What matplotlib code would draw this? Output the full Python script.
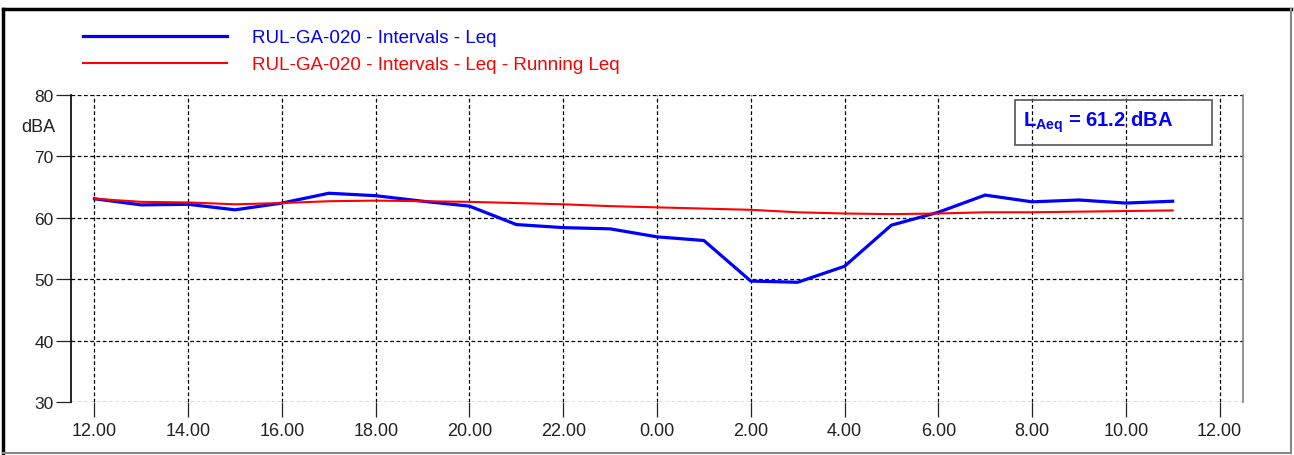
import matplotlib
matplotlib.use("Agg")
import matplotlib.pyplot as plt
from matplotlib.patches import Rectangle
from matplotlib.lines import Line2D

plt.rcParams['font.family'] = ['Liberation Sans', 'DejaVu Sans']
plt.rcParams['mathtext.fontset'] = 'custom'
plt.rcParams['mathtext.rm'] = 'Liberation Sans'
plt.rcParams['mathtext.bf'] = 'Liberation Sans:bold'

# Hourly intervals, starting at noon (hours > 24 wrap to the next day)
hours = list(range(12, 36))
leq = [63.1, 62.1, 62.2, 61.3, 62.4, 64.0, 63.6, 62.7, 61.9, 58.9, 58.4, 58.2,
       56.9, 56.3, 49.7, 49.5, 52.1, 58.8, 60.9, 63.7, 62.6, 62.9, 62.4, 62.7]
running_leq = [63.1, 62.6, 62.5, 62.2, 62.4, 62.7, 62.8, 62.7, 62.6, 62.4, 62.2, 61.9,
               61.7, 61.5, 61.3, 60.9, 60.7, 60.6, 60.7, 60.9, 60.9, 61.0, 61.1, 61.2]
xticks = list(range(12, 37, 2))
xtick_labels = [f"{h % 24}.00" for h in xticks]
yticks = [30, 40, 50, 60, 70, 80]
laeq = 61.2
series_names = ["RUL-GA-020 - Intervals - Leq", "RUL-GA-020 - Intervals - Leq - Running Leq"]

W, H = 1294, 456
fig = plt.figure(figsize=(W / 100, H / 100), dpi=100)
fig.patch.set_facecolor('white')
ax = fig.add_axes([71 / W, (H - 403) / H, (1243 - 71) / W, (403 - 96) / H])

ax.plot(hours, leq, color='#0000FF', lw=2.3, label=series_names[0], zorder=4)
ax.plot(hours, running_leq, color='#FF0000', lw=1.5, label=series_names[1], zorder=5)

ax.set_xlim(11.5, 36.5)
ax.set_ylim(30, 80)
ax.set_xticks(xticks)
ax.set_xticklabels(xtick_labels)
ax.set_yticks(yticks)
ax.tick_params(axis='both', colors='#222222', length=11, width=0.9)
ax.tick_params(axis='y', pad=1.5, labelsize=12.5)
ax.tick_params(axis='x', pad=3.5, labelsize=13)
ax.grid(True, color='black', linestyle=(0, (3, 2)), linewidth=0.9)

for side in ('top', 'bottom'):
    ax.spines[side].set_visible(False)
ax.spines['left'].set_color('black')
ax.spines['left'].set_linewidth(1.2)
ax.spines['right'].set_color('#808080')
ax.spines['right'].set_linewidth(1.2)

fig.text(55 / W, 1 - 128 / H, "dBA", ha='right', va='center', fontsize=13, color='#222222')

# LAeq summary box
ax.add_patch(Rectangle(((1015 - 71) / 1172, (403 - 146) / 307), 197 / 1172, 45 / 307,
                       transform=ax.transAxes, fill=False, edgecolor='#555555',
                       lw=1.2, zorder=6))
ax.text((1023 - 71) / 1172, (403 - 122) / 307,
        r'$\mathbf{L}_{\mathbf{Aeq}}$' + f' = {laeq:.1f} dBA',
        transform=ax.transAxes, ha='left', va='center', fontsize=14.5,
        fontweight='bold', color='#0000FF', zorder=7)

# Legend
fig.legend(loc='upper left', bbox_to_anchor=(83 / W, 1 - 30 / H), frameon=False,
           fontsize=13.5, handlelength=7.7, handletextpad=1.3, labelspacing=0.53,
           borderpad=0, borderaxespad=0, labelcolor='linecolor')

# Outer frame: dark top/left, grey bottom/right
fig.add_artist(Line2D([3 / W, 3 / W], [1 - 454 / H, 1 - 10 / H], color='black', lw=2.5,
                      transform=fig.transFigure))
fig.add_artist(Line2D([3 / W, 1291 / W], [1 - 10 / H, 1 - 10 / H], color='black', lw=2.5,
                      transform=fig.transFigure))
fig.add_artist(Line2D([1291 / W, 1291 / W], [1 - 454 / H, 1 - 10 / H], color='#888888', lw=1.5,
                      transform=fig.transFigure))
fig.add_artist(Line2D([3 / W, 1291 / W], [1 - 454 / H, 1 - 454 / H], color='#888888', lw=1.5,
                      transform=fig.transFigure))

fig.savefig('out.png', dpi=100)
